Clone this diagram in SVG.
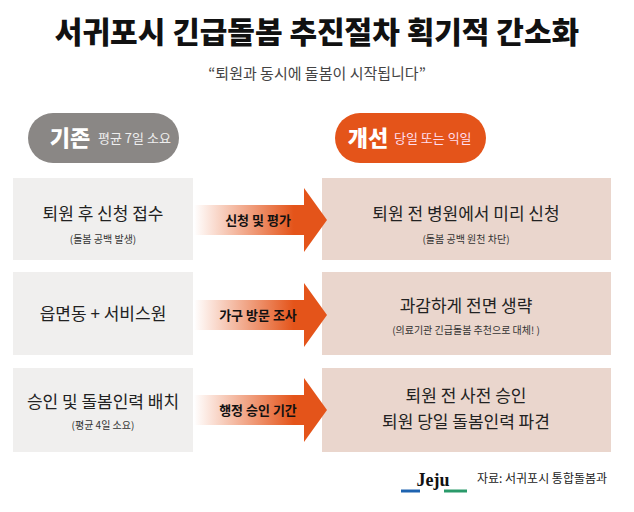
<svg xmlns="http://www.w3.org/2000/svg" width="634" height="512" viewBox="0 0 634 512">
<style>
text{font-family:"Noto Sans CJK KR","Noto Sans",sans-serif;text-anchor:middle}
.l{fill:#f0efee}.r{fill:#ead6cd}
.m{font-size:17px;fill:#222}.s{font-size:10px;fill:#333}
.a{font-size:13px;font-weight:700;fill:#111}
.ps{font-size:13px;text-anchor:start}
</style>
<defs>
<linearGradient id="g" x1="0" x2="1" y1="0" y2="0"><stop offset="0" stop-color="#e4541a" stop-opacity="0"/><stop offset="0.75" stop-color="#e4541a"/></linearGradient>
<path id="ar" d="M0,-15 H110 V-32 L133,0 L110,32 V15 H0 Z" fill="url(#g)"/>
</defs>
<rect width="634" height="512" fill="#fff"/>
<text x="317" y="43" style="font-size:30px;font-weight:900;fill:#111">서귀포시 긴급돌봄 추진절차 획기적 간소화</text>
<text x="317" y="79" style="font-size:15px;fill:#444">“퇴원과 동시에 돌봄이 시작됩니다”</text>
<g id="pill-old"><rect x="28" y="113" width="151" height="50" rx="25" fill="#8a8785"/><text x="70" y="146" style="font-size:22px;font-weight:900;fill:#fff">기존</text><text class="ps" x="98" y="143" style="fill:#eee">평균 7일 소요</text></g>
<g id="pill-new"><rect x="335" y="113" width="151" height="50" rx="25" fill="#e4541a"/><text x="368" y="146" style="font-size:22px;font-weight:900;fill:#fff">개선</text><text class="ps" x="394" y="143" style="fill:#fde">당일 또는 익일</text></g>
<g id="old1"><rect class="l" x="13" y="178" width="180" height="82"/><text class="m" x="103" y="220">퇴원 후 신청 접수</text><text class="s" x="103" y="243">(돌봄 공백 발생)</text></g>
<g id="old2"><rect class="l" x="13" y="272" width="180" height="83"/><text class="m" x="103" y="320">읍면동 + 서비스원</text></g>
<g id="old3"><rect class="l" x="13" y="368" width="180" height="84"/><text class="m" x="103" y="408">승인 및 돌봄인력 배치</text><text class="s" x="103" y="429">(평균 4일 소요)</text></g>
<g id="new1"><rect class="r" x="322" y="178" width="289" height="82"/><text class="m" x="466" y="220">퇴원 전 병원에서 미리 신청</text><text class="s" x="466" y="243">(돌봄 공백 원천 차단)</text></g>
<g id="new2"><rect class="r" x="322" y="272" width="289" height="83"/><text class="m" x="466" y="312">과감하게 전면 생략</text><text class="s" x="466" y="334">(의료기관 긴급돌봄 추천으로 대체! )</text></g>
<g id="new3"><rect class="r" x="322" y="368" width="289" height="84"/><text class="m" x="466" y="402">퇴원 전 사전 승인</text><text class="m" x="466" y="428">퇴원 당일 돌봄인력 파견</text></g>
<g id="connectors">
<use href="#ar" transform="translate(194,220)"/>
<use href="#ar" transform="translate(194,315)"/>
<use href="#ar" transform="translate(194,410)"/>
<text class="a" x="258" y="225">신청 및 평가</text>
<text class="a" x="258" y="320">가구 방문 조사</text>
<text class="a" x="258" y="415">행정 승인 기간</text>
</g>
<g id="source">
<text x="433" y="486" style="font-size:18px;font-weight:900;font-family:'Liberation Serif',serif;fill:#111">Jeju</text>
<path d="M401,491 H420" stroke="#1e63b0" stroke-width="3"/><path d="M444,491 H467" stroke="#2a9a6a" stroke-width="3"/>
<text x="542" y="483" style="font-size:12px;fill:#222">자료: 서귀포시 통합돌봄과</text>
</g>
</svg>
